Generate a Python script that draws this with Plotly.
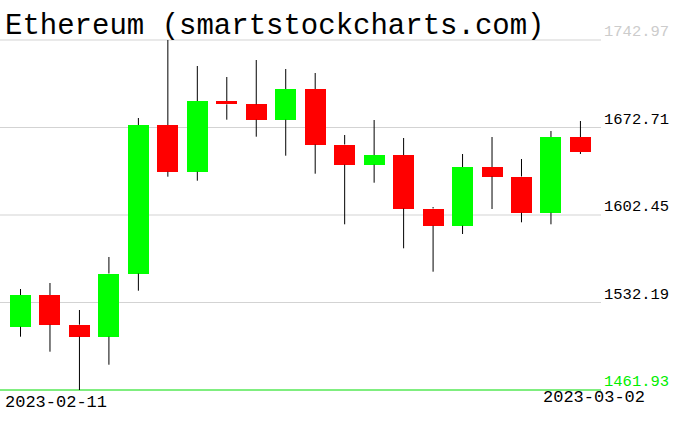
import plotly.graph_objects as go

dates = ["2023-02-11", "2023-02-12", "2023-02-13", "2023-02-14", "2023-02-15",
         "2023-02-16", "2023-02-17", "2023-02-18", "2023-02-19", "2023-02-20",
         "2023-02-21", "2023-02-22", "2023-02-23", "2023-02-24", "2023-02-25",
         "2023-02-26", "2023-02-27", "2023-02-28", "2023-03-01", "2023-03-02"]
opens = [1512.76, 1538.21, 1514.36, 1504.73, 1555.48, 1674.72, 1637.22, 1693.99, 1691.34, 1678.97,
         1703.62, 1659.06, 1642.84, 1650.63, 1607.67, 1593.86, 1640.99, 1633.36, 1604.30, 1665.08]
highs = [1543.03, 1547.85, 1526.17, 1568.73, 1680.34, 1742.97, 1722.09, 1713.26, 1726.91, 1719.68,
         1716.47, 1666.69, 1678.73, 1664.28, 1608.87, 1651.43, 1665.08, 1647.42, 1669.90, 1677.93]
lows = [1504.73, 1492.68, 1461.93, 1482.24, 1541.66, 1633.20, 1629.99, 1678.97, 1665.32, 1650.07,
        1635.61, 1594.98, 1628.39, 1575.71, 1556.92, 1587.19, 1607.27, 1596.59, 1594.98, 1651.43]
closes = [1538.21, 1514.36, 1504.73, 1555.48, 1674.72, 1637.22, 1693.99, 1691.34, 1678.97, 1703.62,
          1659.06, 1642.84, 1650.63, 1607.67, 1593.86, 1640.99, 1633.36, 1604.30, 1665.08, 1653.04]
tick_vals = [1461.93, 1532.19, 1602.45, 1672.71, 1742.97]
tick_labels = ["1461.93", "1532.19", "1602.45", "1672.71", "1742.97"]
tick_colors = ["#00ee00", "black", "black", "black", "#cccccc"]
title_text = "Ethereum (smartstockcharts.com)"

n = len(dates)
idx = list(range(n))

# wicks (drawn outside the body)
wx, wy = [], []
for i in idx:
    top = max(opens[i], closes[i])
    bot = min(opens[i], closes[i])
    wx += [i, i, None, i, i, None]
    wy += [highs[i], top, None, bot, lows[i], None]

colors = ["#00ff00" if closes[i] >= opens[i] else "#ff0000" for i in idx]
base = [min(opens[i], closes[i]) for i in idx]
height = [max(abs(closes[i] - opens[i]), 0.6) for i in idx]

fig = go.Figure()
fig.add_trace(go.Scatter(x=wx, y=wy, mode="lines", line=dict(color="black", width=1),
                         hoverinfo="skip", showlegend=False))
fig.add_trace(go.Bar(x=idx, y=height, base=base, width=0.7126,
                     marker=dict(color=colors, line=dict(width=0)), showlegend=False))

ymin, ymax = tick_vals[0], tick_vals[-1]
pad = 1.606
shapes = []
for v, c in zip(tick_vals, tick_colors):
    shapes.append(dict(type="line", xref="paper", yref="y", x0=0, x1=1, y0=v, y1=v,
                       line=dict(color="#00dd00" if v == ymin else "#d3d3d3", width=1),
                       layer="below"))

annotations = []
for v, t, c in zip(tick_vals, tick_labels, tick_colors):
    annotations.append(dict(xref="paper", yref="y", x=1, y=v, text=t, showarrow=False,
                            xanchor="left", yanchor="bottom", xshift=1, yshift=-3,
                            font=dict(family="Liberation Mono", size=15.5, color=c)))
annotations.append(dict(xref="paper", yref="paper", x=0, y=0, text=dates[0], showarrow=False,
                        xanchor="left", yanchor="top", xshift=3, yshift=1,
                        font=dict(family="Liberation Mono", size=17, color="black")))
annotations.append(dict(xref="paper", yref="paper", x=1, y=0, text=dates[-1], showarrow=False,
                        xanchor="right", yanchor="top", xshift=46, yshift=6,
                        font=dict(family="Liberation Mono", size=17, color="black")))
annotations.append(dict(xref="paper", yref="paper", x=0, y=1, text=title_text, showarrow=False,
                        xanchor="left", yanchor="bottom", xshift=3, yshift=-7,
                        font=dict(family="Liberation Mono", size=29, color="black")))

fig.update_layout(
    width=676, height=431,
    margin=dict(l=0, r=75, t=38, b=39),
    plot_bgcolor="white", paper_bgcolor="white",
    bargap=0,
    xaxis=dict(range=[-0.6956, 19.698], showgrid=False, showticklabels=False,
               zeroline=False, showline=False, ticks=""),
    yaxis=dict(range=[ymin - pad, ymax + pad], showgrid=False, showticklabels=False,
               zeroline=False, showline=False, ticks=""),
    shapes=shapes, annotations=annotations,
    showlegend=False,
)

fig.write_html("out.html", config={"displayModeBar": False},
               post_script="document.body.style.margin='0';document.body.style.overflow='hidden';")
